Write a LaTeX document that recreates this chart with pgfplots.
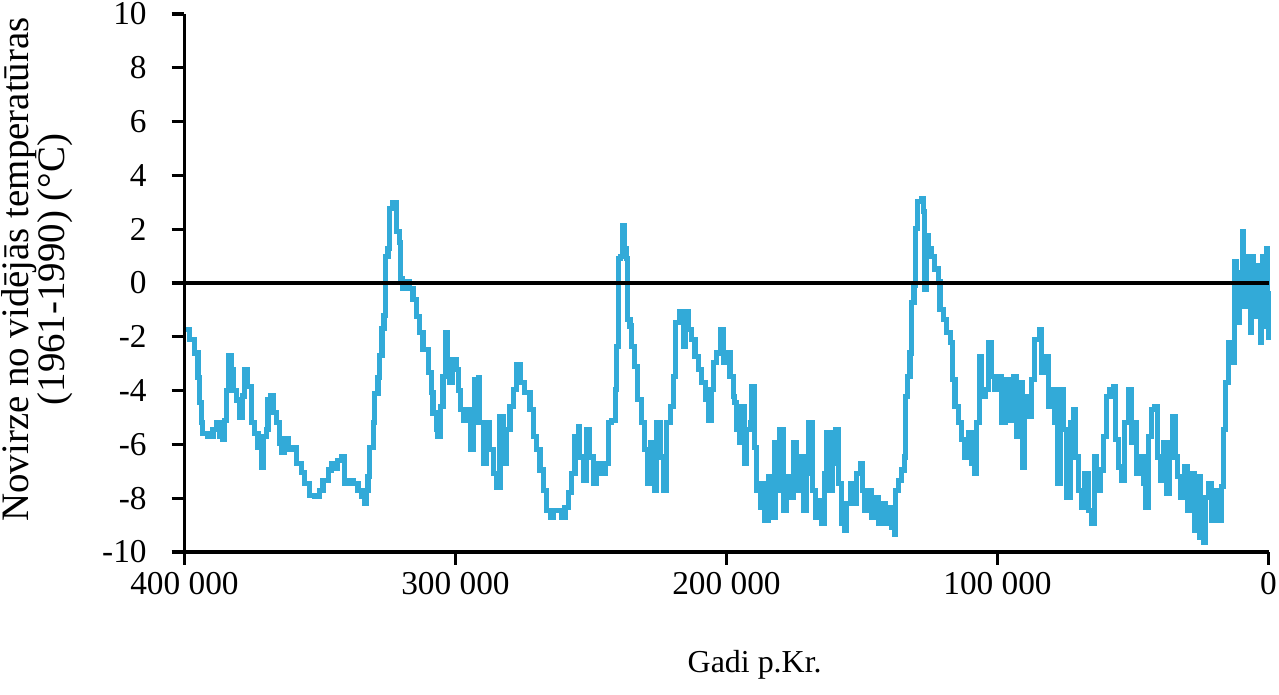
\documentclass[border=0pt]{standalone}
\usepackage{fontspec}
\setmainfont{Liberation Serif}
\usepackage{pgfplots}
\pgfplotsset{compat=1.18}
\definecolor{vostok}{RGB}{50,170,216}
\begin{document}
\begin{tikzpicture}
\begin{axis}[
  name=ax,
  scale only axis,
  width=390.24pt, height=193.68pt,
  x dir=reverse,
  xmin=0, xmax=400, ymin=-10, ymax=10,
  axis lines=left,
  axis line style={-, line width=1.1pt, black},
  tick style={line width=1.1pt, black},
  tick align=outside,
  major tick length=4.6pt,
  xtick={0,100,200,300,400},
  xticklabels={0,100 000,200 000,300 000,400 000},
  ytick={-10,-8,-6,-4,-2,0,2,4,6,8,10},
  yticklabels={-10,-8,-6,-4,-2,0,2,4,6,8,10},
  tick label style={font=\fontsize{12}{14.4}\selectfont},
  yticklabel style={xshift=-5.5pt},
  xticklabel style={yshift=1pt},
  xlabel={Gadi p.Kr.},
  xlabel style={font=\fontsize{11.5}{13}\selectfont, at={(axis description cs:0.526,-0.223)}, anchor=base},
  ylabel={Novirze no vidējās temperatūras\\(1961-1990) (°C)},
  ylabel style={font=\fontsize{14}{12.8}\selectfont, at={(axis description cs:-0.136,0.525)}, anchor=center, align=center},
  clip=false,
]
\addplot[const plot, color=vostok, line width=1.85pt] table {
x y
399.3 -1.72
398.1 -2.1
396.2 -2.6
395.0 -3.5
394.4 -4.45
393.8 -5.2
393.2 -5.6
391.3 -5.7
389.5 -5.45
388.3 -5.2
387.0 -5.7
385.8 -5.8
385.2 -5.1
384.6 -4.0
383.7 -2.7
382.7 -3.2
382.1 -4.0
380.9 -4.35
379.6 -5.0
378.7 -4.2
377.8 -3.2
376.6 -3.85
375.4 -5.2
374.1 -5.6
372.9 -6.1
371.7 -6.85
371.0 -5.7
369.8 -5.45
369.2 -4.35
368.3 -4.2
367.3 -4.8
366.1 -5.2
364.9 -5.95
364.3 -6.3
363.0 -5.8
361.8 -6.2
360.0 -6.1
358.7 -6.7
356.9 -7.05
355.6 -7.45
353.8 -7.9
352.0 -7.95
350.1 -7.7
348.9 -7.35
347.0 -6.95
345.8 -6.7
344.6 -6.9
343.4 -6.6
342.1 -6.45
340.9 -7.45
339.7 -7.35
337.8 -7.45
336.0 -7.7
334.8 -7.95
333.5 -8.2
332.9 -7.7
332.3 -7.2
331.7 -6.1
330.4 -5.2
329.8 -4.1
328.6 -3.5
328.0 -2.7
327.1 -1.7
326.4 -1.2
325.9 1.0
324.9 1.27
324.3 2.77
323.3 3.0
322.1 3.0
321.8 1.9
320.6 1.5
320.4 0.15
319.4 -0.2
318.2 0.04
316.9 -0.2
315.7 -0.6
314.5 -1.23
313.2 -1.85
312.0 -2.47
310.1 -3.33
308.9 -4.08
308.3 -4.83
307.1 -5.46
306.5 -5.72
305.6 -4.6
304.6 -3.48
303.6 -1.85
302.8 -2.95
302.1 -3.7
301.2 -2.84
299.7 -3.2
299.0 -4.0
298.3 -4.7
297.1 -5.1
295.9 -4.7
294.6 -6.2
293.4 -5.2
292.8 -3.6
291.6 -3.5
291.0 -5.2
289.7 -6.7
288.5 -5.2
287.3 -6.2
286.1 -7.07
284.8 -7.6
283.6 -4.97
282.4 -6.7
281.1 -5.46
279.9 -4.6
278.7 -3.96
277.4 -3.03
276.2 -3.7
274.4 -4.08
272.5 -4.7
271.3 -5.72
270.0 -6.2
268.8 -6.95
267.6 -7.7
266.3 -8.45
265.1 -8.7
263.9 -8.45
262.1 -8.45
260.8 -8.7
259.6 -8.33
258.4 -7.8
257.1 -7.07
255.9 -5.72
254.7 -5.35
254.1 -6.47
252.8 -7.33
251.6 -5.46
250.4 -6.47
249.2 -7.44
247.9 -6.7
246.1 -7.07
244.8 -6.7
243.6 -5.2
242.4 -5.1
241.1 -3.96
240.5 -2.35
239.9 0.9
239.0 1.0
238.3 2.13
237.5 1.27
236.8 0.9
236.5 -1.35
235.6 -1.6
235.0 -2.35
233.8 -3.1
232.8 -4.34
231.3 -5.2
230.1 -6.2
229.1 -7.44
227.9 -5.94
226.6 -7.7
225.8 -5.2
224.5 -6.47
223.3 -7.7
222.1 -5.2
220.8 -4.6
219.6 -3.48
218.7 -1.46
217.2 -1.08
215.9 -2.35
215.3 -1.08
214.1 -1.72
212.8 -2.1
211.6 -2.72
210.4 -3.2
209.2 -3.7
207.9 -4.34
206.7 -5.1
205.7 -3.96
204.9 -2.95
203.6 -2.6
202.1 -1.72
201.2 -2.95
199.9 -2.6
198.7 -3.48
197.5 -4.22
196.9 -4.45
196.2 -5.46
195.0 -5.94
194.4 -4.6
193.4 -6.7
192.5 -5.46
191.3 -5.2
190.7 -3.85
189.7 -6.1
188.9 -7.7
187.6 -8.33
187.0 -7.44
185.8 -8.82
184.6 -7.2
183.3 -8.7
182.1 -5.94
181.1 -7.7
180.3 -5.46
179.0 -8.45
177.8 -7.2
176.6 -7.96
175.4 -5.94
174.1 -7.7
172.9 -6.47
171.7 -8.45
170.4 -7.07
169.6 -5.2
168.3 -7.7
167.3 -8.7
166.1 -8.07
164.9 -8.95
163.9 -7.07
163.0 -5.57
161.8 -7.7
161.0 -6.7
159.7 -5.46
158.7 -7.44
157.5 -8.95
156.5 -9.2
155.6 -8.2
154.4 -7.44
153.2 -8.2
152.0 -7.07
150.7 -6.7
149.9 -7.7
148.9 -8.45
147.7 -7.7
146.4 -8.7
145.2 -7.96
144.0 -8.95
142.7 -8.2
141.5 -8.95
140.3 -8.33
139.0 -9.08
138.1 -9.33
137.6 -7.7
136.6 -7.33
135.4 -6.95
134.4 -6.47
133.9 -4.22
133.1 -3.48
132.3 -2.6
131.7 -0.72
130.8 -0.1
130.4 2.02
129.6 3.03
128.2 3.14
127.4 2.65
126.8 -0.22
126.4 1.76
125.5 1.27
124.3 1.0
123.1 0.52
121.8 0.04
121.2 -0.97
120.0 -1.35
118.7 -1.85
117.5 -2.2
116.7 -3.6
115.7 -4.6
114.5 -5.2
113.2 -5.83
112.0 -6.47
110.8 -5.57
109.5 -6.7
108.3 -7.07
107.7 -5.2
106.8 -2.72
105.8 -4.22
104.6 -3.96
103.4 -2.2
102.1 -3.48
100.9 -3.96
99.7 -3.48
98.5 -5.2
97.2 -3.96
96.6 -3.6
95.4 -5.1
94.2 -3.48
92.9 -5.72
91.7 -3.7
90.8 -6.84
89.9 -4.22
88.6 -4.97
87.4 -3.6
86.2 -2.1
84.6 -1.72
83.7 -3.33
82.5 -2.72
81.3 -4.6
80.0 -3.96
78.8 -5.2
77.8 -7.44
76.9 -3.96
75.7 -5.46
74.5 -7.96
73.2 -5.2
72.0 -4.7
71.4 -6.47
70.2 -7.7
68.9 -8.33
67.7 -7.07
66.5 -8.45
65.2 -8.95
64.3 -6.47
63.4 -7.7
62.2 -6.95
61.0 -5.72
59.7 -4.22
58.5 -3.96
57.3 -3.85
56.4 -5.83
55.4 -6.84
54.2 -7.33
53.0 -5.2
51.7 -3.96
50.7 -5.94
49.9 -5.2
48.6 -7.07
47.4 -6.47
46.2 -7.44
45.3 -8.33
44.4 -5.72
43.1 -4.7
41.9 -4.6
40.9 -6.47
40.0 -7.33
38.8 -5.94
37.6 -7.83
36.7 -5.94
35.5 -4.97
34.5 -6.47
33.5 -7.2
32.3 -7.96
31.1 -6.84
29.8 -8.45
28.6 -7.07
27.4 -9.2
26.4 -7.2
25.3 -9.45
24.1 -9.64
23.2 -7.96
22.2 -7.44
21.0 -8.82
19.7 -7.7
18.5 -8.82
17.3 -7.57
16.7 -5.46
15.8 -3.7
14.8 -2.2
13.4 -2.95
12.4 0.79
12.0 -0.3
11.6 0.4
11.1 -1.46
10.7 0.2
10.2 -0.5
9.7 1.9
9.3 0.3
8.7 -0.86
8.3 0.5
7.8 1.0
7.4 -0.4
6.8 -1.85
6.4 0.3
6.0 1.0
5.6 -0.5
5.0 -1.23
4.6 0.4
4.1 0.64
3.7 -0.6
3.1 -2.2
2.7 0.2
2.3 1.0
1.9 -0.5
1.5 -1.6
1.1 0.3
0.7 1.27
0.3 -0.4
0.1 -2.1
};
\addplot[black, line width=1.1pt] coordinates {(0,0) (400,0)};
\end{axis}
\pgfresetboundingbox
\path[use as bounding box] ([xshift=-66.42pt, yshift=-51.12pt]ax.south west) rectangle ([xshift=3.78pt, yshift=5.04pt]ax.north east);
\end{tikzpicture}
\end{document}
